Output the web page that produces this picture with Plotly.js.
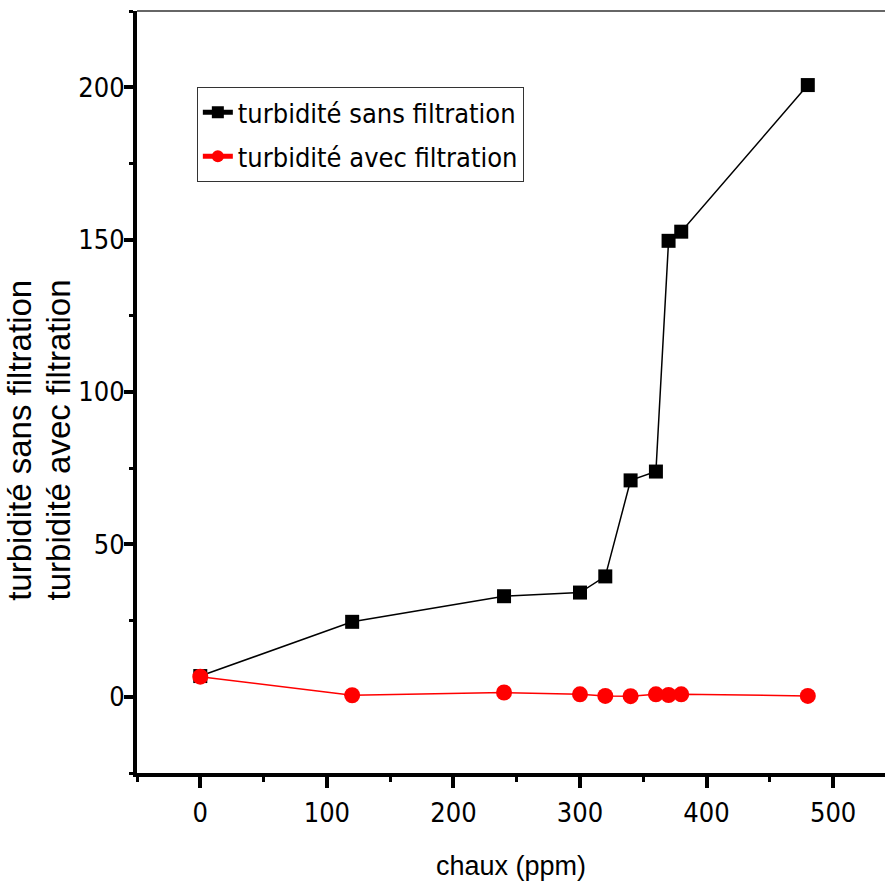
<!DOCTYPE html>
<html>
<head>
<meta charset="utf-8">
<script src="https://cdn.plot.ly/plotly-3.0.1.min.js"></script>
<style>html,body{margin:0;padding:0;background:#fff;}#chart{width:885px;height:886px;}</style>
</head>
<body>
<div id="chart"></div>
<script>
// Data
var chaux = [0, 120, 240, 300, 320, 340, 360, 370, 380, 480];
var turbiditeSans = [6.8, 24.6, 33.0, 34.2, 39.5, 71.0, 73.9, 149.6, 152.6, 200.7];
var turbiditeAvec = [6.6, 0.5, 1.4, 0.8, 0.3, 0.2, 0.8, 0.6, 0.8, 0.3];
var seriesNames = ['turbidité sans filtration', 'turbidité avec filtration'];
var xTitle = 'chaux (ppm)';
var yTitleLines = ['turbidité sans filtration', 'turbidité avec filtration'];

var narrow = '"Liberation Sans Narrow", "Arial Narrow", "DejaVu Sans Condensed", "Liberation Sans", sans-serif';
var regular = '"Liberation Sans", Arial, sans-serif';

var traces = [
  {x: chaux, y: turbiditeSans, name: seriesNames[0], type: 'scatter', mode: 'lines+markers',
   legendgroup: 'g1',
   line: {color: '#000000', width: 1.5},
   marker: {symbol: 'square', size: 14, color: '#000000'}},
  {x: chaux, y: turbiditeAvec, name: seriesNames[1], type: 'scatter', mode: 'lines+markers',
   legendgroup: 'g2',
   line: {color: '#ff0000', width: 1.5},
   marker: {symbol: 'circle', size: 16, color: '#ff0000'}}
];

var layout = {
  width: 885, height: 886,
  margin: {l: 137, r: 0, t: 11, b: 113, pad: 0},
  paper_bgcolor: '#ffffff', plot_bgcolor: '#ffffff',
  showlegend: true,
  legend: {x: 0.08, y: 0.9, xanchor: 'left', yanchor: 'top',
           bordercolor: '#333333', borderwidth: 1, bgcolor: '#ffffff',
           font: {family: narrow, size: 27, color: '#000000'},
           traceorder: 'grouped', tracegroupgap: 6, itemsizing: 'constant'},
  xaxis: {
    range: [-50, 541], showgrid: false, zeroline: false,
    showline: true, linecolor: '#000000', linewidth: 4,
    ticks: 'outside', ticklen: 11, tickwidth: 4, tickcolor: '#000000',
    tickmode: 'linear', tick0: 0, dtick: 100,
    minor: {ticks: 'outside', ticklen: 5, tickwidth: 3, tickcolor: '#000000', dtick: 50, tick0: 0},
    tickfont: {family: narrow, size: 27, color: '#000000'},
    ticklabelstandoff: 2,
    title: {text: xTitle, font: {family: regular, size: 27, color: '#000000'}, standoff: 30}
  },
  yaxis: {
    range: [-25, 225], showgrid: false, zeroline: false,
    showline: true, linecolor: '#000000', linewidth: 4,
    ticks: 'outside', ticklen: 9, tickwidth: 4, tickcolor: '#000000',
    tickmode: 'linear', tick0: 0, dtick: 50,
    minor: {ticks: 'outside', ticklen: 4, tickwidth: 3, tickcolor: '#000000', dtick: 25, tick0: 0},
    tickfont: {family: narrow, size: 27, color: '#000000'},
    ticklabelstandoff: -6
  },
  shapes: [
    {type: 'line', xref: 'paper', yref: 'paper', x0: 0, x1: 1, y0: 1, y1: 1,
     line: {color: '#333333', width: 1.5}}
  ],
  annotations: [
    {text: yTitleLines[0], xref: 'paper', yref: 'paper', x: -0.158, y: 0.437,
     xanchor: 'center', yanchor: 'middle', textangle: -90, showarrow: false,
     font: {family: regular, size: 33, color: '#000000'}},
    {text: yTitleLines[1], xref: 'paper', yref: 'paper', x: -0.105, y: 0.437,
     xanchor: 'center', yanchor: 'middle', textangle: -90, showarrow: false,
     font: {family: regular, size: 33, color: '#000000'}}
  ]
};

Plotly.newPlot('chart', traces, layout, {displayModeBar: false, staticPlot: true});
</script>
</body>
</html>
